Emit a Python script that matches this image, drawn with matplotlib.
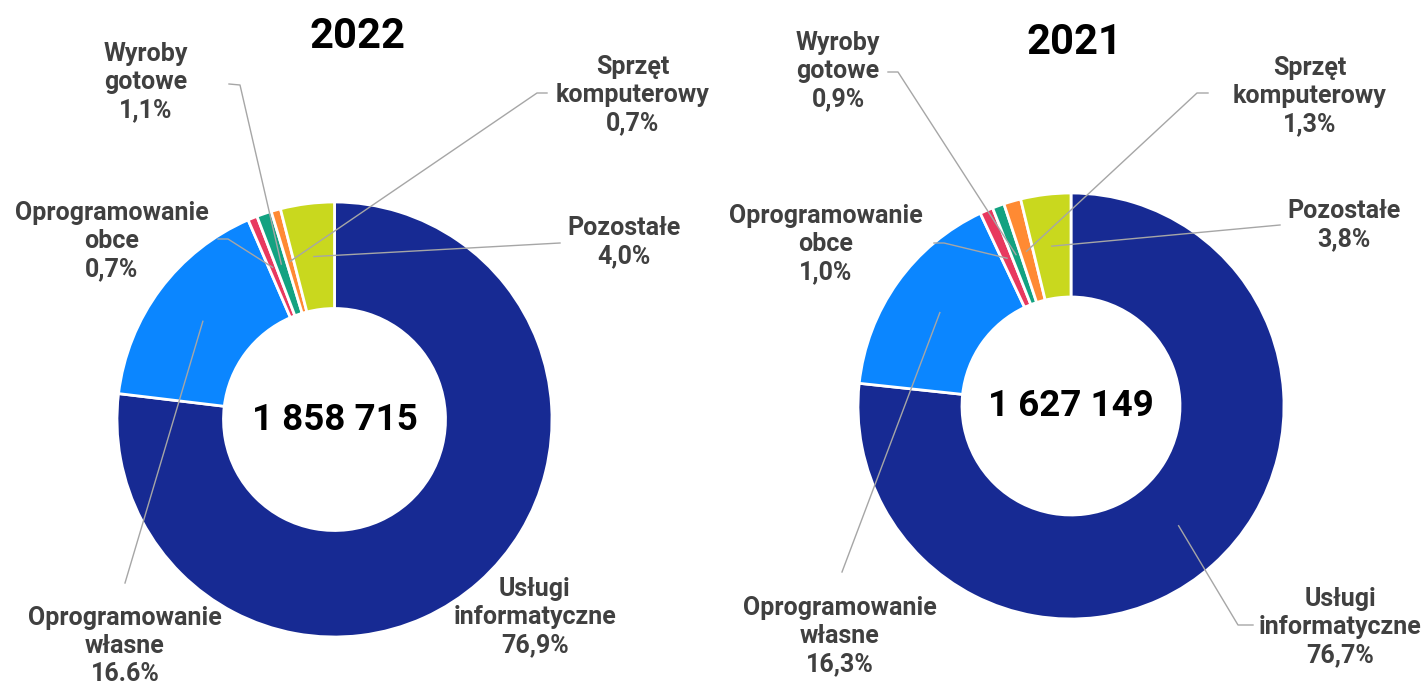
import numpy as np
import matplotlib
matplotlib.use('Agg')
import matplotlib.pyplot as plt

plt.rcParams['font.family'] = ['Roboto', 'DejaVu Sans']

# dane
kategorie = ['Usługi\ninformatyczne', 'Oprogramowanie\nwłasne', 'Oprogramowanie\nobce',
             'Wyroby\ngotowe', 'Sprzęt\nkomputerowy', 'Pozostałe']
udzialy_2022 = [76.9, 16.6, 0.7, 1.1, 0.7, 4.0]
udzialy_2021 = [76.7, 16.3, 1.0, 0.9, 1.3, 3.8]
etykiety_2022 = ['76,9%', '16.6%', '0,7%', '1,1%', '0,7%', '4,0%']
etykiety_2021 = ['76,7%', '16,3%', '1,0%', '0,9%', '1,3%', '3,8%']
suma_2022 = '1 858 715'
suma_2021 = '1 627 149'
kolory = ['#172A93', '#0B86FF', '#E8395F', '#13A281', '#FF8A33', '#C9D81E']

W, H = 1428, 684
fig = plt.figure(figsize=(W / 100, H / 100), dpi=100)


def donut(cx, cy, R, r_in, vals, labels, total, title, title_pos, lab_pos, leaders):
    ax = fig.add_axes([(cx - R) / W, 1 - (cy + R) / H, 2 * R / W, 2 * R / H])
    wedges, _ = ax.pie(vals, colors=kolory, startangle=90, counterclock=False, radius=1,
                       wedgeprops=dict(width=1 - r_in / R, edgecolor='white', linewidth=2))
    ax.set_xlim(-1, 1)
    ax.set_ylim(-1, 1)
    ax.axis('off')

    def px(x, y):
        return (x - cx) / R, (cy - y) / R

    ax.text(0, 0, total, ha='center', va='center', fontsize=26.5, fontweight='bold', color='black')
    tx, ty = px(*title_pos)
    ax.text(tx, ty, title, ha='center', va='center', fontsize=30, fontweight='bold', color='black')

    rm = (1 + r_in / R) / 2
    for i, w in enumerate(wedges):
        lx, ly = px(*lab_pos[i])
        ax.text(lx, ly, kategorie[i] + '\n' + labels[i], ha='center', va='center',
                multialignment='center', fontsize=18, fontweight='bold', color='#404040',
                linespacing=1.2)
        if leaders[i] is not None:
            ang = np.deg2rad((w.theta1 + w.theta2) / 2)
            pts = [px(*p) for p in leaders[i]] + [(rm * np.cos(ang), rm * np.sin(ang))]
            xs, ys = zip(*pts)
            ax.plot(xs, ys, color='#a6a6a6', lw=1, clip_on=False)


donut(334.5, 419.5, 217.5, 111, udzialy_2022, etykiety_2022, suma_2022, '2022', (358, 36),
      [(535, 617), (125, 646), (112, 241), (146, 82), (633, 95), (624, 242)],
      [None, [(125, 583)], [(218, 239), (228, 239)], [(229, 84), (240, 85)],
       [(547, 93), (537, 93)], [(560, 243)]])

donut(1071, 406, 213, 109, udzialy_2021, etykiety_2021, suma_2021, '2021', (1074, 43),
      [(1340, 627), (840, 636), (826, 244), (838, 71), (1310, 96), (1344, 225)],
      [[(1253, 625), (1238, 625)], [(842, 572)], [(934, 243), (944, 243)],
       [(888, 72), (898, 72)], [(1208, 93), (1197, 93)], [(1280, 225)]])

fig.savefig('out.png', dpi=100, facecolor='white')
